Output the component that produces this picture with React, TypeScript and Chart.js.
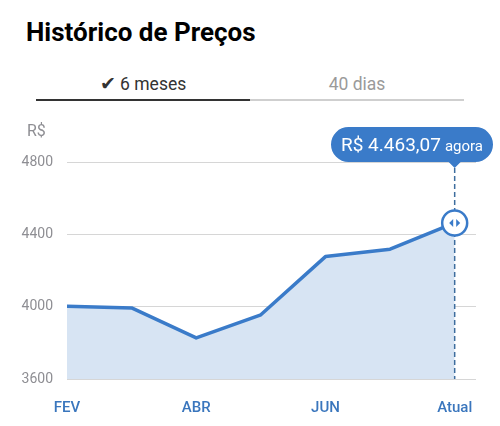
import React, { useEffect, useRef } from "react";
import { Chart, registerables } from "chart.js";

Chart.register(...registerables);

const title = "Histórico de Preços";
const tabActive = "6 meses";
const tabInactive = "40 dias";
const unitLabel = "R$";
const xLabels = ["FEV", "", "ABR", "", "JUN", "", "Atual"];
const prices = [4002, 3993, 3827, 3955, 4277, 4318, 4463.07];
const yTicks = [3600, 4000, 4400, 4800];
const currentText = "R$ 4.463,07";
const currentSuffix = "agora";

const BLUE = "#3a7bc9";
const FONT = "Roboto, 'Liberation Sans', sans-serif";

export default function App() {
  const ref = useRef<HTMLCanvasElement | null>(null);

  useEffect(() => {
    const canvas = ref.current;
    if (!canvas) return;

    const overlay = {
      id: "overlay",
      afterDatasetsDraw(chart: any) {
        const ctx = chart.ctx;
        const xs = chart.scales.x;
        const ys = chart.scales.y;
        const area = chart.chartArea;
        const last = prices.length - 1;
        const px = xs.getPixelForValue(last);
        const py = ys.getPixelForValue(prices[last]);

        // unit label
        ctx.save();
        ctx.fillStyle = "#8e8e93";
        ctx.font = `16px ${FONT}`;
        ctx.textAlign = "left";
        ctx.textBaseline = "middle";
        ctx.fillText(unitLabel, 27, 22);
        ctx.restore();

        // tooltip pill
        ctx.save();
        ctx.font = `19px ${FONT}`;
        const w1 = ctx.measureText(currentText).width;
        ctx.font = `15px ${FONT}`;
        const w2 = ctx.measureText(currentSuffix).width;
        const padX = 10;
        const gap = 4;
        const pw = padX * 2 + w1 + gap + w2;
        const right = chart.width - 7;
        const left = right - pw;
        const top = 17;
        const bottom = 52;
        const r = (bottom - top) / 2;
        ctx.fillStyle = BLUE;
        ctx.beginPath();
        ctx.moveTo(left + r, top);
        ctx.lineTo(right - r, top);
        ctx.arc(right - r, top + r, r, -Math.PI / 2, Math.PI / 2);
        ctx.lineTo(px + 6, bottom);
        ctx.lineTo(px, bottom + 6);
        ctx.lineTo(px - 6, bottom);
        ctx.lineTo(left + r, bottom);
        ctx.arc(left + r, top + r, r, Math.PI / 2, (3 * Math.PI) / 2);
        ctx.closePath();
        ctx.fill();
        ctx.fillStyle = "#ffffff";
        ctx.textBaseline = "alphabetic";
        ctx.textAlign = "left";
        ctx.font = `19px ${FONT}`;
        ctx.fillText(currentText, left + padX, 41);
        ctx.font = `15px ${FONT}`;
        ctx.fillText(currentSuffix, left + padX + w1 + gap, 41);
        ctx.restore();

        // dashed line
        ctx.save();
        ctx.strokeStyle = "#3d6d9e";
        ctx.lineWidth = 1.5;
        ctx.setLineDash([5, 3]);
        ctx.beginPath();
        ctx.moveTo(px, bottom + 6);
        ctx.lineTo(px, area.bottom);
        ctx.stroke();
        ctx.restore();

        // handle circle
        ctx.save();
        ctx.setLineDash([]);
        ctx.fillStyle = "#ffffff";
        ctx.strokeStyle = BLUE;
        ctx.lineWidth = 2.5;
        ctx.beginPath();
        ctx.arc(px, py, 12.5, 0, Math.PI * 2);
        ctx.fill();
        ctx.stroke();
        ctx.fillStyle = BLUE;
        ctx.beginPath();
        ctx.moveTo(px - 1.5, py - 4);
        ctx.lineTo(px - 1.5, py + 4);
        ctx.lineTo(px - 5.5, py);
        ctx.closePath();
        ctx.fill();
        ctx.beginPath();
        ctx.moveTo(px + 1.5, py - 4);
        ctx.lineTo(px + 1.5, py + 4);
        ctx.lineTo(px + 5.5, py);
        ctx.closePath();
        ctx.fill();
        ctx.restore();
      },
    };

    const chart = new Chart(canvas, {
      type: "line",
      data: {
        datasets: [
          {
            data: prices.map((v, i) => ({ x: i, y: v })),
            borderColor: BLUE,
            borderWidth: 3.5,
            backgroundColor: "#d7e4f3",
            fill: "start",
            tension: 0,
            pointRadius: 0,
            borderJoinStyle: "round",
          },
        ],
      },
      options: {
        animation: false,
        responsive: false,
        maintainAspectRatio: false,
        layout: { padding: { top: 52, right: 24, left: 0, bottom: 0 } },
        plugins: { legend: { display: false }, tooltip: { enabled: false } },
        scales: {
          x: {
            type: "linear",
            min: 0,
            max: 6.33,
            afterBuildTicks: (s: any) => {
              s.ticks = xLabels
                .map((l, i) => ({ value: i, label: l }))
                .filter((t) => t.label !== "");
            },
            afterFit: (s: any) => {
              s.height = 47;
            },
            ticks: {
              callback: (v: any) => xLabels[v as number] ?? "",
              color: "#3a76bd",
              font: { family: FONT, size: 15, weight: 500 as any },
              padding: 20,
              maxRotation: 0,
              autoSkip: false,
            },
            grid: { display: false, drawTicks: false },
            border: { display: false },
          },
          y: {
            min: 3600,
            max: 4800,
            afterBuildTicks: (s: any) => {
              s.ticks = yTicks.map((v) => ({ value: v }));
            },
            afterFit: (s: any) => {
              s.width = 67;
            },
            ticks: {
              callback: (v: any) => String(v),
              color: "#8e8e93",
              font: { family: FONT, size: 14 },
              padding: 14,
            },
            grid: { color: "#d6d6d6", lineWidth: 1, drawTicks: false },
            border: { display: false },
          },
        },
      },
      plugins: [overlay],
    });
    return () => chart.destroy();
  }, []);

  return (
    <div
      style={{
        position: "fixed",
        left: 0,
        top: 0,
        width: 500,
        height: 426,
        background: "#ffffff",
        fontFamily: FONT,
      }}
    >
      <div
        style={{
          position: "absolute",
          left: 26,
          top: 15,
          fontSize: 26,
          fontWeight: 700,
          color: "#000",
          whiteSpace: "nowrap",
          lineHeight: "34px",
        }}
      >
        {title}
      </div>
      <div
        style={{
          position: "absolute",
          left: 36,
          top: 72,
          width: 214,
          textAlign: "center",
          fontSize: 17.5,
          color: "#333",
          lineHeight: "24px",
        }}
      >
        <span style={{ fontSize: 19 }}>✔</span> {tabActive}
      </div>
      <div
        style={{
          position: "absolute",
          left: 250,
          top: 72,
          width: 214,
          textAlign: "center",
          fontSize: 17.5,
          color: "#9a9a9a",
          lineHeight: "24px",
        }}
      >
        {tabInactive}
      </div>
      <div
        style={{ position: "absolute", left: 36, top: 99, width: 214, height: 2, background: "#333" }}
      />
      <div
        style={{ position: "absolute", left: 250, top: 99, width: 214, height: 2, background: "#cfcfcf" }}
      />
      <canvas
        ref={ref}
        width={500}
        height={316}
        style={{ position: "absolute", left: 0, top: 110, width: 500, height: 316 }}
      />
    </div>
  );
}
